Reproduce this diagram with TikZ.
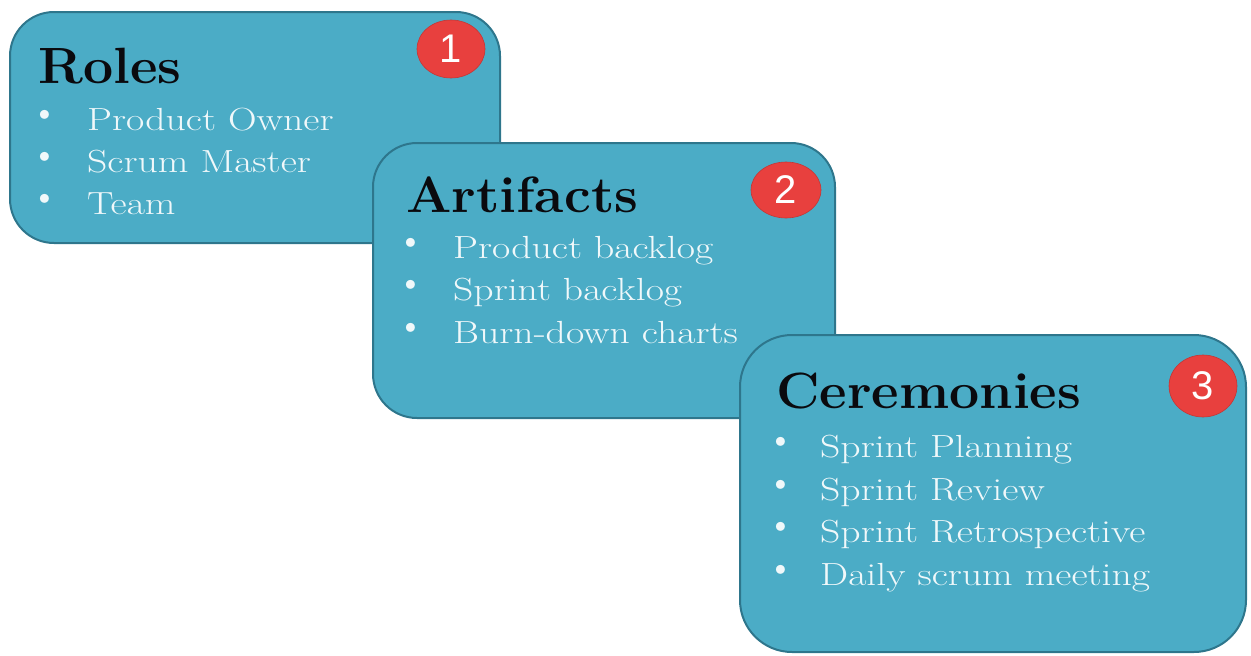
\documentclass[tikz,border=0pt]{standalone}
\usepackage{fontspec}
\newfontfamily\digitfont{Liberation Sans}
\usetikzlibrary{shapes.geometric}
\definecolor{boxfill}{RGB}{75,172,198}
\definecolor{boxedge}{RGB}{46,118,140}
\definecolor{badgered}{RGB}{232,64,62}
\definecolor{itemcol}{RGB}{240,248,250}
\definecolor{titlecol}{RGB}{10,10,14}
\newcommand\itemtxt[1]{\scalebox{1.24}[1]{#1}}
\newcommand\ttltxt[1]{\scalebox{1.05}[1]{#1}}
\begin{document}
\begin{tikzpicture}[x=1pt,y=-1pt,
  card/.style={rectangle, rounded corners=44pt, draw=boxedge, line width=2pt, fill=boxfill, inner sep=0pt},
  badge/.style={ellipse, fill=badgered, draw=badgered!85!black, line width=0.6pt, inner sep=0pt, text=white, font=\digitfont\fontsize{40}{40}\selectfont},
  ttl/.style={anchor=base west, inner sep=0pt, text=titlecol, font=\bfseries\fontsize{51}{60}\selectfont},
  itm/.style={anchor=base west, inner sep=0pt, text=itemcol, font=\fontsize{32}{38}\selectfont},
  bul/.style={anchor=center, inner sep=0pt, text=itemcol, font=\fontsize{40}{40}\selectfont}]
\useasboundingbox (0,0) rectangle (1251,656);
% box 1
\node[card, minimum width=490pt, minimum height=231pt] (c1) at (255,127.5) {};
\node[badge, minimum width=68pt, minimum height=58pt] (n1) at (451,49) {1};
\node[ttl] (t1) at (38,83) {\ttltxt{Roles}};
\node[bul] (b11) at (45,118) {\textbullet};
\node[itm] (i11) at (87,130) {\itemtxt{Product Owner}};
\node[bul] (b12) at (45,160) {\textbullet};
\node[itm] (i12) at (87,172) {\itemtxt{Scrum Master}};
\node[bul] (b13) at (45,202) {\textbullet};
\node[itm] (i13) at (87,214) {\itemtxt{Team}};
% box 2
\node[card, minimum width=462pt, minimum height=275pt] (c2) at (604,280.5) {};
\node[badge, minimum width=70pt, minimum height=56pt] (n2) at (786,190) {2};
\node[ttl] (t2) at (406,212) {\ttltxt{Artifacts}};
\node[bul] (b21) at (411,246) {\textbullet};
\node[itm] (i21) at (453,258) {\itemtxt{Product backlog}};
\node[bul] (b22) at (411,288) {\textbullet};
\node[itm] (i22) at (453,300) {\itemtxt{Sprint backlog}};
\node[bul] (b23) at (411,331) {\textbullet};
\node[itm] (i23) at (453,343) {\itemtxt{Burn-down charts}};
% box 3
\node[card, minimum width=506pt, minimum height=317pt, rounded corners=52pt] (c3) at (993,493.5) {};
\node[badge, minimum width=68pt, minimum height=62pt] (n3) at (1203,386) {3};
\node[ttl] (t3) at (776,408) {\ttltxt{Ceremonies}};
\node[bul] (b31) at (781,445) {\textbullet};
\node[itm] (i31) at (820,457) {\itemtxt{Sprint Planning}};
\node[bul] (b32) at (781,488) {\textbullet};
\node[itm] (i32) at (820,500) {\itemtxt{Sprint Review}};
\node[bul] (b33) at (781,530) {\textbullet};
\node[itm] (i33) at (820,542) {\itemtxt{Sprint Retrospective}};
\node[bul] (b34) at (781,573) {\textbullet};
\node[itm] (i34) at (820,585) {\itemtxt{Daily scrum meeting}};
\end{tikzpicture}
\end{document}
